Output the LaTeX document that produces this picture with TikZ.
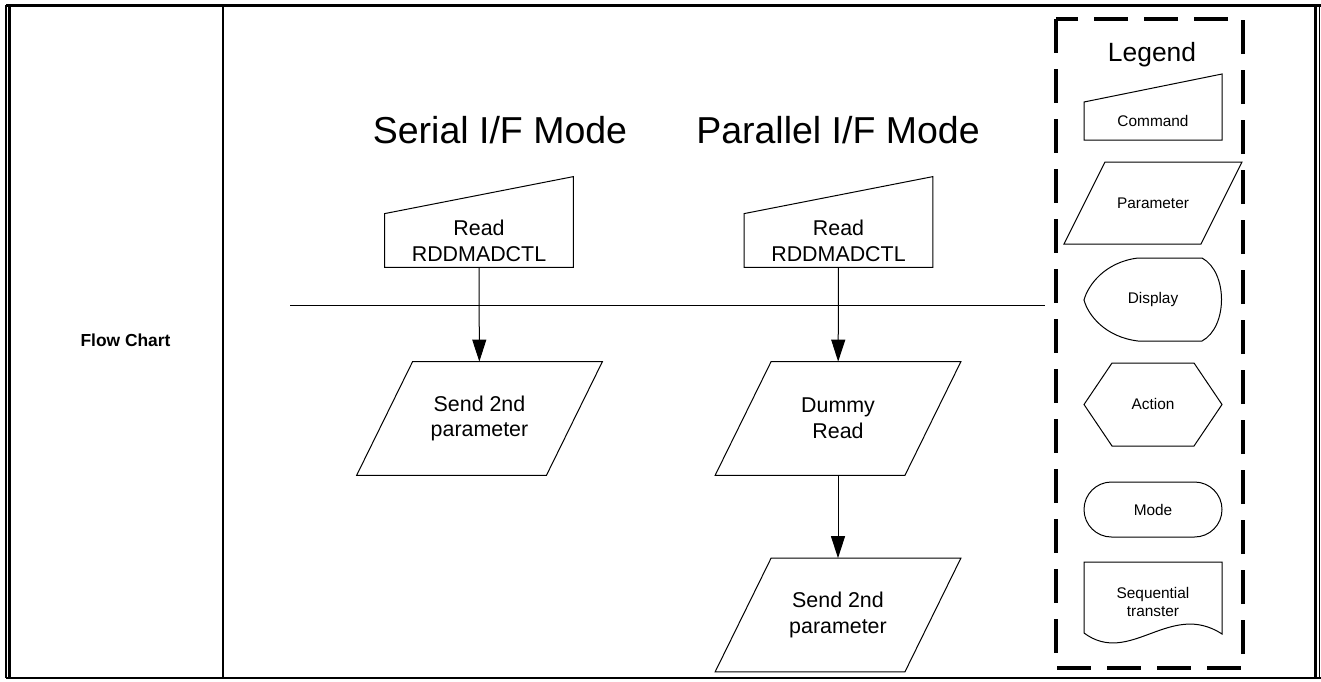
\documentclass[tikz,border=0pt]{standalone}
\usepackage{fontspec}
\setmainfont{Liberation Sans}
\usetikzlibrary{arrows.meta,calc}

\tikzset{
	txt/.style={align=center, inner sep=0pt, font=\fontsize{10.7}{12.85}\selectfont},
	legtxt/.style={align=center, inner sep=0pt, font=\fontsize{7.7}{9.2}\selectfont},
	cmdbox/.style={txt, minimum width=94pt, minimum height=26.5pt},
	parbox/.style={txt, minimum width=122.5pt, minimum height=56.5pt},
	title/.style={anchor=base, inner sep=0pt, font=\fontsize{18.75}{22}\selectfont},
	shapeline/.style={line width=0.5pt},
	arr/.style={-{Triangle[width=7pt,length=11pt]}, line width=0.5pt}
}

\begin{document}
\begin{tikzpicture}[x=0.5pt, y=-0.5pt]
			\useasboundingbox (0,0) rectangle (1321,681);

			% Draw table frame
			\draw[line width=0.6pt] (6,5) -- (6,678);
			\draw[line width=1.2pt] (9.5,5) -- (9.5,678);
			\draw[line width=1.5pt] (6,5.5) -- (1321,5.5);
			\draw[line width=1.5pt] (1315,5) -- (1315,678);
			\draw[line width=0.8pt] (1319.5,5) -- (1319.5,678);
			\draw[line width=1.2pt] (6,678) -- (1321,678);
			\draw[line width=1.2pt] (223,5) -- (223,678);
			\node[anchor=base, inner sep=0pt, font=\bfseries\fontsize{8.7}{10}\selectfont] (flowlbl) at (125.5,346) {Flow Chart};

			% Draw titles
			\node[title] (serialttl) at (500,143) {Serial I/F Mode};
			\node[title] (parallelttl) at (838,143) {Parallel I/F Mode};

			% Draw flow nodes
			\node[cmdbox] (cmdS) at (479,240.5) {Read\\RDDMADCTL};
			\node[parbox] (sendS) at (479.5,418.5) {Send 2nd\\parameter};
			\node[cmdbox] (cmdP) at (838.5,240.5) {Read\\RDDMADCTL};
			\node[parbox] (dummyP) at (838,418.5) {Dummy\\Read};
			\node[parbox] (sendP) at (838,615) {Send 2nd\\parameter};

			% Draw node outlines
			\foreach \n in {cmdS, cmdP}
				\draw[shapeline] (\n.north west) -- ($(\n.north east)+(0,-37)$) -- (\n.south east) -- (\n.south west) -- cycle;
			\foreach \n in {sendS, dummyP, sendP}
				\draw[shapeline] ($(\n.north west)+(56,0)$) -- (\n.north east) -- ($(\n.south east)+(-56,0)$) -- (\n.south west) -- cycle;

			% Draw separator and arrows
			\draw[shapeline] (290,305) -- (1045,305);
			\draw[arr] (cmdS) -- (sendS);
			\draw[arr] (cmdP) -- (dummyP);
			\draw[arr] (dummyP) -- (sendP);

			% Draw legend
			\draw[line width=2pt, dash pattern=on 17pt off 8pt] (1056,19) rectangle (1243,668);
			\node[anchor=base, inner sep=0pt, font=\fontsize{13.2}{16}\selectfont] (legttl) at (1152,61) {Legend};

			\node[legtxt] (legcmd) at (1153,121) {Command};
			\draw[shapeline] (1084,102) -- (1222,74) -- (1222,140) -- (1084,140) -- cycle;

			\node[legtxt] (legpar) at (1153,203) {Parameter};
			\draw[shapeline] (1105,162) -- (1242,162) -- (1201,244) -- (1064,244) -- cycle;

			\node[legtxt] (legdisp) at (1153,300) {Display};
			\draw[shapeline] (1138,258) -- (1202,258) .. controls (1228,272) and (1228,327) .. (1202,341)
				-- (1138,341) .. controls (1105,337) and (1088,315) .. (1084,300)
				.. controls (1088,285) and (1105,262) .. (1138,258) -- cycle;

			\node[legtxt] (legact) at (1153,404) {Action};
			\draw[shapeline] (1084,404.5) -- (1112,363) -- (1194,363) -- (1222,404.5) -- (1194,446) -- (1112,446) -- cycle;

			\node[legtxt] (legmode) at (1153,509.5) {Mode};
			\draw[shapeline, rounded corners=13.75pt] (1084,482) rectangle (1222,537);

			\node[legtxt] (legseq) at (1153,602) {Sequential\\transter};
			\draw[shapeline] (1084,633) -- (1084,562) -- (1222,562) -- (1222,634)
				.. controls (1170,600) and (1130,667) .. (1084,633) -- cycle;
		\end{tikzpicture}
\end{document}
